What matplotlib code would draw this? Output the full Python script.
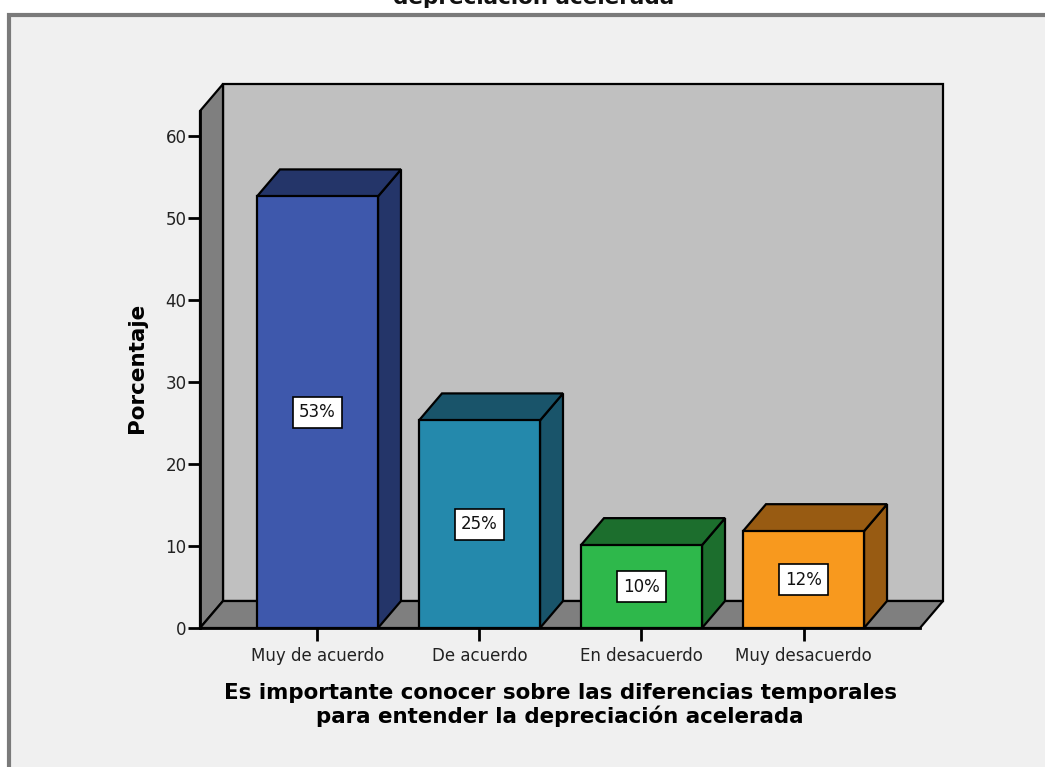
import matplotlib
matplotlib.use("Agg")
import matplotlib.pyplot as plt
from matplotlib.patches import Polygon, Rectangle

# Response categories and percentages
categories = ["Muy de acuerdo", "De acuerdo", "En desacuerdo", "Muy desacuerdo"]
percentages = [52.6, 25.3, 10.1, 11.8]
y_ticks = [0, 10, 20, 30, 40, 50, 60]

front_colors = ["#3e58ac", "#2489ac", "#2eb84b", "#f8991e"]
shade_colors = ["#243569", "#19546a", "#1c6e2d", "#985b12"]

title_text = "depreciación acelerada"
x_title = "Es importante conocer sobre las diferencias temporales\npara entender la depreciación acelerada"
y_title = "Porcentaje"

W, H = 1045, 767
fig = plt.figure(figsize=(W / 100, H / 100), dpi=100, facecolor="white")
plt.rcParams["font.family"] = ["DejaVu Sans"]

# Outer frame of the chart area
fig.patches.append(Rectangle((8.5 / W, -0.1), 1.2, 1 - 14.5 / H + 0.1,
                             transform=fig.transFigure, facecolor="#f0f0f0",
                             edgecolor="#7a7a7a", lw=3, zorder=-5))

# Partly visible chart title at the very top
fig.text(534 / W, 1 - 4 / H, title_text, ha="center", va="baseline",
         fontsize=15.5, fontweight="bold", color="#111111")

# Plot area: x in category units, y in percent
x0, xr = -0.725, 3.861
y_top = 66.3
ax = fig.add_axes([200 / W, 1 - 628 / H, (943 - 200) / W, (628 - 84) / H])
ax.set_xlim(x0, xr)
ax.set_ylim(0, y_top)
ax.patch.set_alpha(0)

ddx, ddy = 0.142, 3.29      # depth offset of the 3-D effect
bar_w = 0.747
x_floor = 3.719

edge = dict(edgecolor="black", lw=1.6, joinstyle="miter")

# Back wall
ax.add_patch(Polygon([(x0 + ddx, ddy), (xr, ddy), (xr, y_top), (x0 + ddx, y_top)],
                     closed=True, facecolor="#c0c0c0", clip_on=False, zorder=1, **edge))
# Left wall
ax.add_patch(Polygon([(x0, 0), (x0 + ddx, ddy), (x0 + ddx, y_top), (x0, y_top - ddy)],
                     closed=True, facecolor="#7f7f7f", clip_on=False, zorder=2, **edge))
# Floor
ax.add_patch(Polygon([(x0, 0), (x_floor, 0), (x_floor + ddx, ddy), (x0 + ddx, ddy)],
                     closed=True, facecolor="#7f7f7f", clip_on=False, zorder=2, **edge))

# 3-D bars
for i, (v, fc, sc) in enumerate(zip(percentages, front_colors, shade_colors)):
    l, r = i - bar_w / 2, i + bar_w / 2
    z = 3 + i
    ax.add_patch(Polygon([(r, 0), (r + ddx, ddy), (r + ddx, v + ddy), (r, v)],
                         closed=True, facecolor=sc, clip_on=False, zorder=z, **edge))
    ax.add_patch(Polygon([(l, v), (r, v), (r + ddx, v + ddy), (l + ddx, v + ddy)],
                         closed=True, facecolor=sc, clip_on=False, zorder=z, **edge))
    ax.add_patch(Polygon([(l, 0), (r, 0), (r, v), (l, v)],
                         closed=True, facecolor=fc, clip_on=False, zorder=z, **edge))
    ax.text(i, v / 2, f"{v:.0f}%", ha="center", va="center", fontsize=12,
            color="#111111", zorder=10,
            bbox=dict(boxstyle="square,pad=0.38", facecolor="white",
                      edgecolor="black", lw=1.2))

# Axes lines and ticks
for s in ["top", "right"]:
    ax.spines[s].set_visible(False)
ax.spines["left"].set_bounds(0, y_top - ddy)
ax.spines["bottom"].set_bounds(x0, x_floor)
ax.spines["left"].set_linewidth(2)
ax.spines["bottom"].set_linewidth(2)
ax.spines["left"].set_zorder(20)
ax.spines["bottom"].set_zorder(20)

ax.set_yticks(y_ticks)
ax.set_yticklabels([str(t) for t in y_ticks])
ax.set_xticks(range(len(categories)))
ax.set_xticklabels(categories)
ax.tick_params(axis="y", direction="out", length=8.6, width=2, pad=1,
               labelsize=12, labelcolor="#222222")
ax.tick_params(axis="x", direction="out", length=9, width=2, pad=5,
               labelsize=12, labelcolor="#222222")

# Axis titles
fig.text(137 / W, 1 - 368 / H, y_title, rotation=90, ha="center", va="center",
         fontsize=15.5, fontweight="bold", color="black")
fig.text(560 / W, 1 - 705 / H, x_title, ha="center", va="center",
         fontsize=15.4, fontweight="bold", color="black", linespacing=1.1)

fig.savefig("out.png", dpi=100, facecolor="white")
